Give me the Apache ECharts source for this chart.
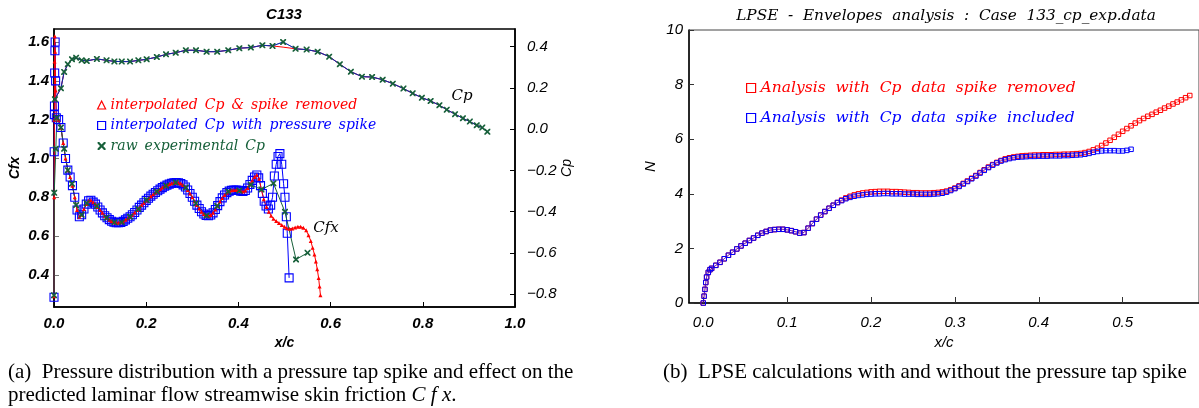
<!DOCTYPE html>
<html>
<head>
<meta charset="utf-8">
<script src="https://cdn.jsdelivr.net/npm/echarts@6/dist/echarts.min.js"></script>
<style>
  html, body { margin: 0; padding: 0; background: #fff; }
  #c { width: 1199px; height: 408px; }
</style>
</head>
<body>
<div id="c"></div>
<script>
// ---------- (a) C133: Cp and predicted Cfx along the chord ----------
// pressure tap stations and measured Cp (tap at x/c = 0.497 is the spike)
const cpTapX = [0.002,0.015,0.022,0.030,0.039,0.048,0.060,0.071,0.093,0.114,0.131,0.147,0.165,0.183,0.201,0.223,0.243,0.264,0.286,0.308,
  0.331,0.354,0.378,0.402,0.427,0.452,0.474,0.497,0.524,0.548,0.572,0.597,0.620,0.644,0.668,0.690,0.713,0.735,0.758,0.778,
  0.798,0.817,0.836,0.852,0.870,0.887,0.902,0.917,0.929,0.940];
const cpRaw = [0.145,0.199,0.278,0.315,0.339,0.347,0.334,0.331,0.341,0.334,0.329,0.328,0.328,0.334,0.339,0.350,0.363,0.371,0.383,0.383,
  0.376,0.376,0.383,0.393,0.396,0.407,0.404,0.423,0.390,0.386,0.376,0.352,0.315,0.279,0.255,0.253,0.240,0.221,0.197,0.174,
  0.153,0.137,0.116,0.095,0.073,0.053,0.037,0.019,0.008,-0.012];
const cpSpikeRemoved = [0.145,0.199,0.278,0.315,0.339,0.347,0.334,0.331,0.341,0.334,0.329,0.328,0.328,0.334,0.339,0.350,0.363,0.371,0.383,0.383,
  0.376,0.376,0.383,0.393,0.396,0.407,0.404,0.398,0.390,0.386,0.376,0.352,0.315,0.279,0.255,0.253,0.240,0.221,0.197,0.174,
  0.153,0.137,0.116,0.095,0.073,0.053,0.037,0.019,0.008,-0.012];

// Cfx near the leading edge
const cfxLeadRemoved = [[0,0.29],[0.0004,0.80],[0.0008,1.20],[0.0012,1.50],[0.0016,1.63],[0.0025,1.55],[0.0035,1.35]];
const cfxLeadSpike = [[0,0.285],[0.0004,1.035],[0.0008,1.226],[0.001,1.27],[0.0015,1.44],[0.002,1.555],[0.0025,1.60],[0.0035,1.40]];

// Cfx where both interpolated distributions agree
const cfxStationX = [0.005,0.010,0.015,0.020,0.025,0.030,0.035,0.040,0.045,0.050,0.055,0.060,0.065,0.070,0.075,0.080,0.085,0.090,0.095,0.100,
  0.105,0.110,0.115,0.120,0.125,0.130,0.135,0.140,0.145,0.150,0.155,0.160,0.165,0.170,0.175,0.180,0.185,0.190,0.195,0.200,
  0.205,0.210,0.215,0.220,0.225,0.230,0.235,0.240,0.245,0.250,0.255,0.260,0.265,0.270,0.275,0.280,0.285,0.290,0.295,0.300,
  0.305,0.310,0.315,0.320,0.325,0.330,0.335,0.340,0.345,0.350,0.355,0.360,0.365,0.370,0.375,0.380,0.385,0.390,0.395,0.400,
  0.405,0.410,0.415,0.420,0.425,0.430,0.435,0.440];
const cfxShared = [1.21,1.20,1.16,1.08,1.00,0.94,0.905,0.86,0.80,0.735,0.70,0.71,0.74,0.765,0.782,0.785,0.775,0.765,0.75,0.735,
  0.72,0.705,0.695,0.685,0.677,0.672,0.669,0.669,0.671,0.676,0.684,0.692,0.70,0.71,0.722,0.735,0.748,0.76,0.772,0.784,
  0.795,0.806,0.816,0.825,0.834,0.842,0.85,0.857,0.863,0.868,0.872,0.875,0.876,0.875,0.871,0.864,0.853,0.838,0.82,0.80,
  0.78,0.76,0.742,0.726,0.714,0.707,0.705,0.709,0.72,0.737,0.757,0.778,0.797,0.812,0.824,0.832,0.836,0.838,0.838,0.836,
  0.832,0.83,0.835,0.848,0.866,0.887,0.905,0.915];

// Cfx downstream of x/c = 0.44
const cfxTailRemoved = [[0.445,0.895],[0.450,0.84],[0.455,0.79],[0.461,0.75],[0.466,0.725],[0.471,0.705],[0.476,0.69],[0.482,0.678],
  [0.488,0.668],[0.494,0.658],[0.500,0.648],[0.505,0.641],[0.511,0.638],[0.517,0.640],[0.523,0.645],[0.529,0.648],[0.535,0.648],
  [0.541,0.643],[0.547,0.63],[0.552,0.605],[0.557,0.575],[0.561,0.54],[0.565,0.505],[0.568,0.47],[0.571,0.43],[0.574,0.385],
  [0.576,0.34],[0.578,0.296]];
const cfxTailSpike = [[0.444,0.90],[0.448,0.86],[0.452,0.82],[0.456,0.78],[0.460,0.755],[0.465,0.74],[0.470,0.76],[0.474,0.80],
  [0.478,0.91],[0.482,0.97],[0.486,1.01],[0.490,1.025],[0.494,0.97],[0.498,0.87],[0.501,0.80],[0.504,0.70],[0.506,0.615],[0.510,0.385]];

// Cfx computed straight from the raw taps
const cfxRaw = [[0,0.296],[0.0005,0.823],[0.004,1.05],[0.006,1.21],[0.015,1.16],[0.022,1.05],[0.030,0.94],[0.039,0.87],[0.048,0.76],
  [0.060,0.71],[0.071,0.77],[0.093,0.755],[0.114,0.695],[0.131,0.671],[0.147,0.672],[0.165,0.70],[0.183,0.74],[0.201,0.786],
  [0.223,0.83],[0.243,0.86],[0.264,0.876],[0.286,0.85],[0.308,0.77],[0.331,0.706],[0.354,0.755],[0.378,0.83],[0.402,0.835],
  [0.427,0.865],[0.450,0.84],[0.476,0.872],[0.501,0.725],[0.525,0.48],[0.550,0.514]];

const cfxTicks = [0.4,0.6,0.8,1.0,1.2,1.4,1.6];
const cpTicks = [-0.8,-0.6,-0.4,-0.2,0.0,0.2,0.4];

// ---------- (b) LPSE N-factor envelopes ----------
const nStationX = [0,0.001,0.002,0.003,0.004,0.006,0.008,
  0.010,0.015,0.020,0.025,0.030,0.035,0.040,0.045,0.050,0.055,0.060,0.065,0.070,0.075,0.080,0.085,0.090,0.095,0.100,
  0.105,0.110,0.115,0.120,0.125,0.130,0.135,0.140,0.145,0.150,0.155,0.160,0.165,0.170,0.175,0.180,0.185,0.190,0.195,0.200,
  0.205,0.210,0.215,0.220,0.225,0.230,0.235,0.240,0.245,0.250,0.255,0.260,0.265,0.270,0.275,0.280,0.285,0.290,0.295,0.300,
  0.305,0.310,0.315,0.320,0.325,0.330,0.335,0.340,0.345,0.350,0.355,0.360,0.365,0.370,0.375,0.380,0.385,0.390,0.395,0.400,
  0.405,0.410,0.415,0.420,0.425,0.430,0.435,0.440,0.445,0.450,0.455,0.460,0.465,0.470,0.475,0.480,0.485,0.490,0.495,0.500,
  0.505,0.510,0.515,0.520,0.525,0.530,0.535,0.540,0.545,0.550,0.555,0.560,0.565,0.570,0.575,0.580];
const nSpikeRemoved = [0.00,0.25,0.50,0.75,0.95,1.12,1.22,
  1.27,1.38,1.49,1.62,1.75,1.86,1.98,2.09,2.19,2.29,2.38,2.48,2.56,2.62,2.67,2.69,2.70,2.70,2.68,
  2.65,2.61,2.56,2.58,2.74,2.91,3.07,3.22,3.35,3.47,3.58,3.68,3.77,3.85,3.91,3.96,4.00,4.03,4.05,4.07,
  4.08,4.09,4.09,4.09,4.08,4.08,4.07,4.06,4.05,4.04,4.04,4.03,4.03,4.03,4.04,4.05,4.07,4.10,4.15,4.21,
  4.29,4.38,4.47,4.57,4.67,4.78,4.88,4.98,5.07,5.15,5.22,5.28,5.32,5.35,5.37,5.39,5.40,5.41,5.42,5.42,
  5.43,5.43,5.43,5.44,5.44,5.45,5.45,5.46,5.47,5.48,5.51,5.55,5.61,5.67,5.77,5.86,5.96,6.07,6.18,6.29,
  6.39,6.49,6.59,6.68,6.76,6.84,6.91,6.99,7.06,7.14,7.21,7.29,7.36,7.44,7.52,7.60];
const nSpikeIncluded = [0.00,0.25,0.50,0.75,0.95,1.12,1.22,
  1.27,1.38,1.49,1.62,1.75,1.86,1.98,2.09,2.19,2.29,2.38,2.48,2.56,2.62,2.67,2.69,2.70,2.70,2.68,
  2.65,2.61,2.56,2.58,2.74,2.91,3.07,3.22,3.35,3.47,3.58,3.68,
  3.75,3.82,3.87,3.91,3.94,3.96,3.98,3.99,4.00,4.00,
  4.01,4.01,4.00,4.00,4.00,3.99,3.99,3.99,3.98,3.98,
  3.98,3.98,3.99,4.00,4.02,4.06,4.12,4.19,4.27,4.36,
  4.45,4.55,4.65,4.76,4.86,4.96,5.05,5.13,5.20,5.25,
  5.29,5.32,5.34,5.35,5.36,5.37,5.37,5.38,5.38,5.38,
  5.39,5.39,5.39,5.40,5.40,5.41,5.42,5.43,5.45,5.48,
  5.52,5.55,5.57,5.58,5.58,5.58,5.57,5.57,5.59,5.63];
const xcTicksB = [0.0, 0.1, 0.2, 0.3, 0.4, 0.5];

// ---------- styling ----------
const RED = '#ff0000', BLUE = '#0000ff', GREEN = '#17603a';
const SERIF = '"DejaVu Serif", serif';
const SANS = '"Liberation Sans", Arial, sans-serif';
const TIMES = '"Liberation Serif", serif';
const RAW_MARK = 'path://M0,0H2L5,3L8,0H10V2L7,5L10,8V10H8L5,7L2,10H0V8L3,5L0,2Z';
const enSpaced = s => s.replace(/ /g, '\u2002');
const spaced = s => s.replace(/ /g, '  ');
const zip = (xs, ys) => ys.map((y, i) => [xs[i], y]);
const fmt1 = v => (v < 0 ? '\u2212' + Math.abs(v).toFixed(1) : v.toFixed(1));

const NAME_REMOVED = 'interpolated Cp & spike removed';
const NAME_SPIKE = 'interpolated Cp with pressure spike';
const NAME_RAW = 'raw experimental Cp';
const NAME_N_REMOVED = 'Analysis with Cp data spike removed';
const NAME_N_INCLUDED = 'Analysis with Cp data spike included';

const tickFontA = { fontFamily: SANS, fontStyle: 'italic', fontWeight: 'bold', fontSize: 15, color: '#000' };
const tickFontB = { fontFamily: SANS, fontStyle: 'italic', fontWeight: 'normal', fontSize: 15, color: '#000' };
const annot = t => ({
  symbol: 'circle', symbolSize: 1, itemStyle: { color: 'rgba(0,0,0,0)' },
  label: { show: true, position: 'inside', formatter: t, fontFamily: SERIF, fontStyle: 'italic', fontSize: 15, color: '#000' }
});

const chart = echarts.init(document.getElementById('c'));
chart.setOption({
  animation: false,
  backgroundColor: '#fff',
  grid: [
    { left: 54, top: 29, width: 461, height: 278, show: true, borderColor: '#000', borderWidth: 1.5, backgroundColor: 'transparent' },
    { left: 689, top: 30, width: 512, height: 273, show: true, borderColor: '#444', borderWidth: 1, backgroundColor: 'transparent' }
  ],
  xAxis: [
    {
      gridIndex: 0, type: 'value', min: 0, max: 1, interval: 0.2,
      axisLine: { onZero: false, lineStyle: { color: '#000', width: 1.5 } },
      axisTick: { inside: true, length: 5, lineStyle: { color: '#000' } },
      axisLabel: Object.assign({ margin: 9, formatter: fmt1 }, tickFontA),
      splitLine: { show: false },
      name: 'x/c', nameLocation: 'middle', nameGap: 26,
      nameTextStyle: { fontFamily: SANS, fontStyle: 'italic', fontWeight: 'bold', fontSize: 14, color: '#000' }
    },
    {
      gridIndex: 1, type: 'value', min: -0.017, max: 0.591,
      axisLine: { onZero: false, lineStyle: { color: '#000', width: 1.5 } },
      axisTick: { inside: true, length: 6, customValues: xcTicksB, lineStyle: { color: '#333' } },
      axisLabel: Object.assign({ margin: 12, customValues: xcTicksB, formatter: fmt1 }, tickFontB),
      splitLine: { show: false },
      name: 'x/c', nameLocation: 'middle', nameGap: 27,
      nameTextStyle: { fontFamily: SANS, fontStyle: 'italic', fontSize: 15, color: '#000' }
    }
  ],
  yAxis: [
    {
      gridIndex: 0, type: 'value', position: 'left', min: 0.235, max: 1.667,
      axisLine: { onZero: false, lineStyle: { color: '#000', width: 1.5 } },
      axisTick: { inside: true, length: 5, customValues: cfxTicks, lineStyle: { color: '#777' } },
      axisLabel: Object.assign({ margin: 5, customValues: cfxTicks, formatter: fmt1 }, tickFontA),
      splitLine: { show: false },
      name: 'Cfx', nameLocation: 'middle', nameGap: 32,
      nameTextStyle: { fontFamily: SANS, fontStyle: 'italic', fontWeight: 'bold', fontSize: 14, color: '#000' }
    },
    {
      gridIndex: 0, type: 'value', position: 'right', min: -0.862, max: 0.486,
      axisLine: { onZero: false, lineStyle: { color: '#000', width: 1.5 } },
      axisTick: { inside: true, length: 5, customValues: cpTicks, lineStyle: { color: '#000' } },
      axisLabel: Object.assign({}, tickFontA, { margin: 12, customValues: cpTicks, formatter: fmt1, fontWeight: 'normal', fontSize: 15 }),
      splitLine: { show: false },
      name: 'Cp', nameLocation: 'middle', nameGap: 44,
      nameTextStyle: { fontFamily: SANS, fontStyle: 'italic', fontSize: 14, color: '#000' }
    },
    {
      gridIndex: 1, type: 'value', min: 0, max: 10, interval: 2,
      axisLine: { onZero: false, lineStyle: { color: '#000', width: 1.5 } },
      axisTick: { inside: true, length: 5, lineStyle: { color: '#333' } },
      axisLabel: Object.assign({ margin: 6 }, tickFontB),
      splitLine: { show: false },
      name: 'N', nameLocation: 'middle', nameGap: 31,
      nameTextStyle: { fontFamily: SANS, fontStyle: 'italic', fontSize: 15, color: '#000' }
    }
  ],
  legend: [
    {
      left: 92, top: 93, orient: 'vertical', itemGap: 6.5, itemWidth: 8, itemHeight: 8,
      formatter: enSpaced, selectedMode: false,
      textStyle: { fontFamily: SERIF, fontStyle: 'italic', fontSize: 14 },
      data: [
        { name: NAME_REMOVED, icon: 'triangle', itemStyle: { color: '#fff', borderColor: RED, borderWidth: 1.2 }, textStyle: { color: RED } },
        { name: NAME_SPIKE, icon: 'rect', itemStyle: { color: '#fff', borderColor: BLUE, borderWidth: 1.2 }, textStyle: { color: BLUE } },
        { name: NAME_RAW, icon: RAW_MARK, itemStyle: { color: GREEN, borderWidth: 0 }, textStyle: { color: GREEN } }
      ]
    },
    {
      left: 741, top: 75, orient: 'vertical', itemGap: 14, itemWidth: 9, itemHeight: 9,
      formatter: spaced, selectedMode: false,
      textStyle: { fontFamily: SERIF, fontStyle: 'italic', fontSize: 15.5 },
      data: [
        { name: NAME_N_REMOVED, icon: 'rect', itemStyle: { color: '#fff', borderColor: RED, borderWidth: 1.2 }, textStyle: { color: RED } },
        { name: NAME_N_INCLUDED, icon: 'rect', itemStyle: { color: '#fff', borderColor: BLUE, borderWidth: 1.2 }, textStyle: { color: BLUE } }
      ]
    }
  ],
  series: [
    // Cfx, pressure spike kept (drawn first: open squares form the wide band)
    {
      name: NAME_SPIKE, type: 'line', xAxisIndex: 0, yAxisIndex: 0, showAllSymbol: true,
      data: cfxLeadSpike.concat(zip(cfxStationX, cfxShared), cfxTailSpike),
      symbol: 'rect', symbolSize: 8,
      itemStyle: { color: 'rgba(0,0,0,0)', borderColor: BLUE, borderWidth: 1.1 },
      lineStyle: { color: BLUE, width: 1 }
    },
    // Cfx, spike removed
    {
      name: NAME_REMOVED, type: 'line', xAxisIndex: 0, yAxisIndex: 0, showAllSymbol: true,
      data: cfxLeadRemoved.concat(zip(cfxStationX, cfxShared), cfxTailRemoved),
      symbol: 'triangle', symbolSize: 4,
      itemStyle: { color: RED },
      lineStyle: { color: RED, width: 1 },
      markPoint: Object.assign(annot('Cfx'), { data: [{ coord: [0.590, 0.641] }] })
    },
    // Cfx from raw taps
    {
      name: NAME_RAW, type: 'line', xAxisIndex: 0, yAxisIndex: 0, showAllSymbol: true,
      data: cfxRaw,
      symbol: RAW_MARK, symbolSize: 6,
      itemStyle: { color: GREEN },
      lineStyle: { color: GREEN, width: 1 }
    },
    // Cp curves
    {
      name: NAME_REMOVED, type: 'line', xAxisIndex: 0, yAxisIndex: 1,
      data: zip(cpTapX, cpSpikeRemoved), showSymbol: false,
      itemStyle: { color: RED }, lineStyle: { color: RED, width: 1 },
      markPoint: Object.assign(annot('Cp'), { data: [{ coord: [0.885, 0.161] }] })
    },
    {
      name: NAME_SPIKE, type: 'line', xAxisIndex: 0, yAxisIndex: 1,
      data: zip(cpTapX, cpRaw), showSymbol: false,
      itemStyle: { color: BLUE }, lineStyle: { color: BLUE, width: 1 }
    },
    {
      name: NAME_RAW, type: 'line', xAxisIndex: 0, yAxisIndex: 1, showAllSymbol: true,
      data: zip(cpTapX, cpRaw),
      symbol: RAW_MARK, symbolSize: 6,
      itemStyle: { color: GREEN }, lineStyle: { color: GREEN, width: 0.8, opacity: 0.6 }
    },
    // N-factor envelopes
    {
      name: NAME_N_REMOVED, type: 'line', xAxisIndex: 1, yAxisIndex: 2, showAllSymbol: true,
      data: zip(nStationX, nSpikeRemoved),
      symbol: 'rect', symbolSize: 4.5,
      itemStyle: { color: 'rgba(0,0,0,0)', borderColor: RED, borderWidth: 1 },
      lineStyle: { color: RED, width: 0.6 }
    },
    {
      name: NAME_N_INCLUDED, type: 'line', xAxisIndex: 1, yAxisIndex: 2, showAllSymbol: true,
      data: zip(nStationX, nSpikeIncluded),
      symbol: 'rect', symbolSize: 4.5,
      itemStyle: { color: 'rgba(0,0,0,0)', borderColor: BLUE, borderWidth: 1 },
      lineStyle: { color: BLUE, width: 0.6 }
    }
  ],
  graphic: [
    { type: 'text', x: 284, y: 15, style: { text: 'C133', align: 'center', verticalAlign: 'middle',
      fontFamily: SANS, fontStyle: 'italic', fontWeight: 'bold', fontSize: 15, fill: '#000' } },
    { type: 'text', x: 946, y: 16, style: { text: spaced('LPSE - Envelopes analysis : Case 133_cp_exp.data'), align: 'center', verticalAlign: 'middle',
      fontFamily: SERIF, fontStyle: 'italic', fontSize: 15.3, fill: '#000' } },
    { type: 'text', x: 8, y: 372, style: { text: '(a)  Pressure distribution with a pressure tap spike and effect on the',
      verticalAlign: 'middle', fontFamily: TIMES, fontSize: 21, fill: '#000' } },
    { type: 'text', x: 8, y: 395, style: { text: 'predicted laminar flow streamwise skin friction {m|C\u2005f\u2005x}.',
      verticalAlign: 'middle', fontFamily: TIMES, fontSize: 21, fill: '#000',
      rich: { m: { fontFamily: TIMES, fontStyle: 'italic', fontSize: 21, fill: '#000' } } } },
    { type: 'text', x: 663, y: 372, style: { text: '(b)  LPSE calculations with and without the pressure tap spike',
      verticalAlign: 'middle', fontFamily: TIMES, fontSize: 21, fill: '#000' } }
  ]
});
</script>
</body>
</html>
